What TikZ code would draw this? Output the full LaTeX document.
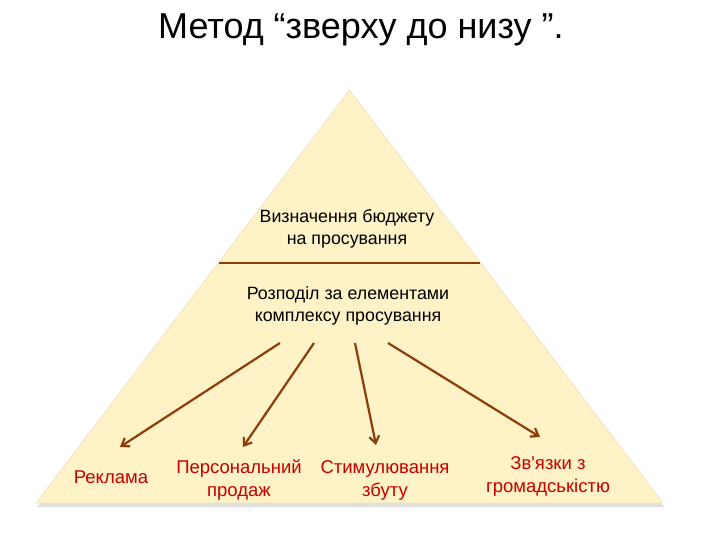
\documentclass[tikz,border=0pt]{standalone}
\usepackage{fontspec}
\setmainfont{Liberation Sans}
\usetikzlibrary{positioning,arrows.meta}

\definecolor{pyrfill}{RGB}{254,242,198}
\definecolor{pyredge}{RGB}{228,218,178}
\definecolor{arrbrown}{RGB}{140,62,10}
\definecolor{lblred}{RGB}{200,0,0}

\begin{document}
\begin{tikzpicture}[x=1pt,y=-1pt,
  txt/.style={align=center, font=\fontsize{17.8}{22.5}\selectfont, inner sep=0pt},
  lbl/.style={txt, text=lblred, font=\fontsize{18.5}{23}\selectfont},
  arr/.style={->, >={Straight Barb[length=7pt,width=10pt]}, draw=arrbrown, line width=2.2pt}]
\useasboundingbox (0,0) rectangle (720,540);

% pyramid
\fill[black!12] (37,507) -- (350,94) -- (664,507) -- cycle;
\filldraw[fill=pyrfill, draw=pyredge] (36,503) -- (349.5,90) -- (663,503) -- cycle;

\node[font=\fontsize{36}{40}\selectfont] (title) at (361,30) {Метод “зверху до низу ”.};

\node[txt] (budget) at (347,229) {Визначення бюджету\\на просування};
\coordinate (divl) at (219,263);
\coordinate (divr) at (480,263);
\draw[arrbrown, line width=2.8pt] (divl) -- (divr);
\node[txt] (split) at (348,306) {Розподіл за елементами\\комплексу просування};

\node[lbl] (ads) at (111,477) {Реклама};
\node[lbl] (sale) at (239,480) {Персональний\\продаж};
\node[lbl] (promo) at (385,480) {Стимулювання\\збуту};
\node[lbl] (pr) at (548,476) {Зв\textquotesingle язки з\\громадськістю};

% arrows from the split node
\coordinate (s1) at (280,343);
\coordinate (s2) at (314,343);
\coordinate (s3) at (355,343);
\coordinate (s4) at (388,343);
\coordinate (e1) at (120,447);
\coordinate (e2) at (243,447);
\coordinate (e3) at (376,445);
\coordinate (e4) at (540,437);
\draw[arr] (s1) -- (e1);
\draw[arr] (s2) -- (e2);
\draw[arr] (s3) -- (e3);
\draw[arr] (s4) -- (e4);

\end{tikzpicture}
\end{document}
